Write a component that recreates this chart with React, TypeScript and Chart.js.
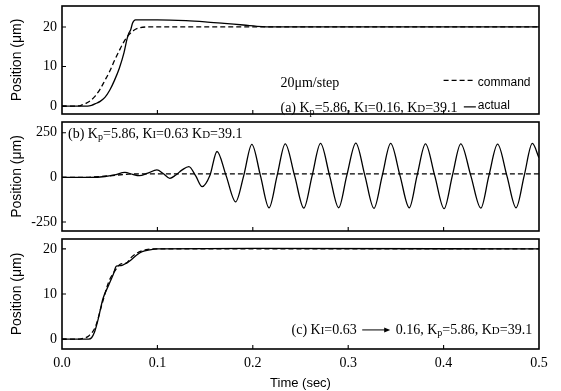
import React, { useEffect, useRef } from "react";
import { Chart, registerables } from "chart.js";
Chart.register(...registerables);

// ---------- data ----------
const timeTicks = [0, 0.1, 0.2, 0.3, 0.4, 0.5];
const posTicksA = [0, 10, 20];
const posTicksB = [-250, 0, 250];
const posTicksC = [0, 10, 20];

// (a) Ki = 0.16
const aCmdT = [0, 0.015, 0.02, 0.025, 0.03, 0.035, 0.04, 0.045, 0.05, 0.055, 0.06, 0.065, 0.07, 0.075, 0.08, 0.09, 0.5];
const aCmdY = [0, 0, 0.2, 0.7, 1.4, 2.6, 4.3, 6.5, 8.8, 11.5, 14, 16.3, 18, 19.1, 19.7, 20, 20];
const aActT = [0, 0.027, 0.031, 0.035, 0.04, 0.045, 0.05, 0.055, 0.06, 0.065, 0.068, 0.07, 0.072, 0.074, 0.077, 0.1, 0.13, 0.15, 0.17, 0.19, 0.21, 0.23, 0.5];
const aActY = [0, 0, 0.2, 0.6, 1.2, 2.2, 4.0, 6.5, 9.5, 13.5, 16.8, 18.4, 19.3, 21.0, 21.8, 21.8, 21.6, 21.3, 20.9, 20.5, 20.1, 20.0, 20.0];

// (b) Ki = 0.63
const bCmdT = [0, 0.02, 0.045, 0.07, 0.09, 0.5];
const bCmdY = [0, 0, 7, 18, 20, 20];
const bActT = [0, 0.03, 0.045, 0.055, 0.066, 0.074, 0.081, 0.09, 0.0995, 0.106, 0.113, 0.119, 0.126, 0.133,
  0.14, 0.147, 0.155, 0.1625, 0.172, 0.182, 0.1905, 0.199, 0.208, 0.217, 0.2255, 0.234, 0.2438, 0.2535,
  0.2622, 0.271, 0.2805, 0.29, 0.2985, 0.308, 0.3175, 0.327, 0.3357, 0.3445, 0.3543, 0.364, 0.3722, 0.381,
  0.3907, 0.4005, 0.4092, 0.418, 0.4285, 0.439, 0.4475, 0.4566, 0.4663, 0.476, 0.4845, 0.493, 0.5];
const bActY = [0, 0, 5, 14, 28, 17, 10, 24, 42, 22, -5, 12, 42, 60,
  10, -52, 10, 145, 10, -137, 10, 185, 10, -170, 10, 188, 10, -172,
  10, 190, 10, -170, 10, 192, 10, -173, 10, 190, 10, -170, 10, 188,
  10, -175, 10, 188, 10, -172, 10, 186, 10, -170, 10, 190, 110];

// (c) Ki = 0.63 -> 0.16
const cCmdT = [0, 0.018, 0.023, 0.028, 0.035, 0.042, 0.049, 0.056, 0.061, 0.066, 0.068, 0.072, 0.078, 0.084, 0.09, 0.1, 0.5];
const cCmdY = [0, 0, 0.2, 0.7, 2.7, 7.8, 12.7, 15.3, 16.6, 16.8, 16.9, 18, 19, 19.6, 19.9, 20, 20];
const cActT = [0, 0.028, 0.031, 0.034, 0.038, 0.043, 0.049, 0.054, 0.057, 0.062, 0.067, 0.072, 0.078, 0.084, 0.092, 0.1, 0.2, 0.5];
const cActY = [0, 0, 0.3, 1.5, 4.5, 9, 12, 14.5, 16.2, 16.3, 16.8, 17.5, 18.6, 19.4, 19.8, 20, 20.1, 20];

// ---------- styling ----------
const SERIF = "'Liberation Serif', 'Times New Roman', serif";
const SANS = "'Liberation Sans', Arial, sans-serif";
const W = 561;

type Seg = { t: string; k?: "sub" | "sc" | "arrow" };
type Note = { x: number; y: number; segs: Seg[]; right?: boolean };
type Leg = { x0: number; x1: number; y: number; dash: boolean; label: string; lx: number; ly: number };

function pts(ts: number[], ys: number[]) {
  return ts.map((t, i) => ({ x: t, y: ys[i] }));
}

const ARROW_W = 28;

function segSize(s: Seg, size: number) {
  return s.k === "sub" ? size * 0.72 : s.k === "sc" ? size * 0.78 : size;
}

function measureSegs(ctx: CanvasRenderingContext2D, segs: Seg[], size: number) {
  let w = 0;
  for (const s of segs) {
    if (s.k === "arrow") {
      w += ARROW_W + 4;
      continue;
    }
    ctx.font = `${segSize(s, size)}px ${SERIF}`;
    w += ctx.measureText(s.t).width;
  }
  return w;
}

function drawSegs(ctx: CanvasRenderingContext2D, segs: Seg[], x: number, y: number, size: number) {
  let cx = x;
  for (const s of segs) {
    if (s.k === "arrow") {
      const w = ARROW_W;
      const ay = y - size * 0.3;
      ctx.lineWidth = 1;
      ctx.setLineDash([]);
      ctx.beginPath();
      ctx.moveTo(cx + 2, ay);
      ctx.lineTo(cx + w, ay);
      ctx.stroke();
      ctx.beginPath();
      ctx.moveTo(cx + w + 2, ay);
      ctx.lineTo(cx + w - 4, ay - 2.5);
      ctx.lineTo(cx + w - 4, ay + 2.5);
      ctx.closePath();
      ctx.fill();
      cx += w + 4;
      continue;
    }
    ctx.font = `${segSize(s, size)}px ${SERIF}`;
    ctx.fillText(s.t, cx, s.k === "sub" ? y + size * 0.15 : y);
    cx += ctx.measureText(s.t).width;
  }
}

function decor(yTicks: number[], notes: Note[], legs: Leg[]) {
  return {
    id: "decor",
    afterDraw(chart: any) {
      const { ctx, chartArea: a, scales } = chart;
      const xs = scales.x, ys = scales.y;
      ctx.save();
      ctx.strokeStyle = "#000";
      ctx.fillStyle = "#000";
      ctx.lineWidth = 1.6;
      ctx.strokeRect(a.left, a.top, a.right - a.left, a.bottom - a.top);
      ctx.lineWidth = 1.1;
      ctx.beginPath();
      for (const v of timeTicks.slice(1, -1)) {
        const px = xs.getPixelForValue(v);
        ctx.moveTo(px, a.bottom);
        ctx.lineTo(px, a.bottom - 4);
      }
      for (const v of yTicks) {
        const py = ys.getPixelForValue(v);
        ctx.moveTo(a.left, py);
        ctx.lineTo(a.left + 4, py);
      }
      ctx.stroke();
      ctx.textBaseline = "alphabetic";
      ctx.textAlign = "left";
      for (const n of notes) {
        let px = xs.getPixelForValue(n.x);
        if (n.right) px -= measureSegs(ctx, n.segs, 14);
        drawSegs(ctx, n.segs, px, ys.getPixelForValue(n.y), 14);
      }
      for (const l of legs) {
        ctx.lineWidth = 1.2;
        ctx.setLineDash(l.dash ? [5, 3] : []);
        ctx.beginPath();
        const py = ys.getPixelForValue(l.y);
        ctx.moveTo(xs.getPixelForValue(l.x0), py);
        ctx.lineTo(xs.getPixelForValue(l.x1), py);
        ctx.stroke();
        ctx.setLineDash([]);
        ctx.font = `12px ${SANS}`;
        ctx.fillText(l.label, xs.getPixelForValue(l.lx), ys.getPixelForValue(l.ly));
      }
      ctx.restore();
    },
  };
}

function ds(ts: number[], ys: number[], dashed: boolean) {
  return {
    data: pts(ts, ys),
    borderColor: "#000",
    borderWidth: 1.3,
    borderDash: dashed ? [5, 3] : [],
    pointRadius: 0,
    fill: false,
    cubicInterpolationMode: "monotone",
  };
}

function makeConfig(p: {
  sets: any[];
  yMin: number;
  yMax: number;
  yTicks: number[];
  padding: any;
  showX: boolean;
  notes: Note[];
  legs: Leg[];
}) {
  return {
    type: "line",
    data: { datasets: p.sets },
    options: {
      responsive: false,
      animation: false,
      devicePixelRatio: 1,
      layout: { padding: p.padding },
      plugins: { legend: { display: false }, tooltip: { enabled: false } },
      scales: {
        x: {
          type: "linear",
          display: p.showX,
          min: 0,
          max: 0.5,
          afterBuildTicks: (s: any) => {
            s.ticks = timeTicks.map((v) => ({ value: v }));
          },
          afterFit: (s: any) => {
            s.height = p.showX ? 42 : 0;
            s.paddingLeft = 0;
            s.paddingRight = 0;
          },
          grid: { display: false, drawTicks: false },
          border: { display: false },
          ticks: {
            color: "#000",
            font: { family: SERIF, size: 14 },
            padding: 6,
            maxRotation: 0,
            autoSkip: false,
            callback: (v: any) => Number(v).toFixed(1),
          },
          title: {
            display: true,
            text: "Time (sec)",
            color: "#000",
            font: { family: SANS, size: 13 },
            padding: { top: 0, bottom: 0 },
          },
        },
        y: {
          type: "linear",
          min: p.yMin,
          max: p.yMax,
          afterBuildTicks: (s: any) => {
            s.ticks = p.yTicks.map((v) => ({ value: v }));
          },
          afterFit: (s: any) => {
            s.width = 62;
            s.paddingTop = 0;
            s.paddingBottom = 0;
          },
          grid: { display: false, drawTicks: false },
          border: { display: false },
          ticks: { color: "#000", font: { family: SERIF, size: 14 }, padding: 5 },
          title: {
            display: true,
            text: "Position (μm)",
            color: "#000",
            font: { family: SANS, size: 14 },
            padding: { top: 9, bottom: 0 },
          },
        },
      },
    },
    plugins: [decor(p.yTicks, p.notes, p.legs)],
  };
}

const notesA: Note[] = [
  { x: 0.229, y: 4.8, segs: [{ t: "20μm/step" }] },
  {
    x: 0.229,
    y: -1.6,
    segs: [{ t: "(a) K" }, { t: "p", k: "sub" }, { t: "=5.86, K" }, { t: "I", k: "sc" }, { t: "=0.16, K" }, { t: "D", k: "sc" }, { t: "=39.1" }],
  },
];
const legsA: Leg[] = [
  { x0: 0.4, x1: 0.4317, y: 6.5, dash: true, label: "command", lx: 0.4359, ly: 5.0 },
  { x0: 0.4212, x1: 0.4338, y: -0.2, dash: false, label: "actual", lx: 0.4359, ly: -0.8 },
];
const notesB: Note[] = [
  {
    x: 0.0063,
    y: 219,
    segs: [{ t: "(b) K" }, { t: "p", k: "sub" }, { t: "=5.86, K" }, { t: "I", k: "sc" }, { t: "=0.63 K" }, { t: "D", k: "sc" }, { t: "=39.1" }],
  },
];
const notesC: Note[] = [
  {
    x: 0.4928,
    y: 1.1,
    right: true,
    segs: [
      { t: "(c) K" },
      { t: "I", k: "sc" },
      { t: "=0.63 " },
      { t: "", k: "arrow" },
      { t: " 0.16, K" },
      { t: "p", k: "sub" },
      { t: "=5.86, K" },
      { t: "D", k: "sc" },
      { t: "=39.1" },
    ],
  },
];

function Panel({ top, height, build }: { top: number; height: number; build: () => any }) {
  const ref = useRef<HTMLCanvasElement>(null);
  useEffect(() => {
    const chart = new Chart(ref.current as HTMLCanvasElement, build());
    return () => chart.destroy();
  }, []);
  return (
    <canvas
      ref={ref}
      width={W}
      height={height}
      style={{ position: "absolute", left: 0, top, width: W, height, display: "block" }}
    />
  );
}

export default function App() {
  return (
    <div style={{ position: "absolute", left: 0, top: 0, width: W, height: 391, background: "#fff", overflow: "hidden" }}>
      <Panel
        top={0}
        height={118}
        build={() =>
          makeConfig({
            sets: [ds(aCmdT, aCmdY, true), ds(aActT, aActY, false)],
            yMin: -2,
            yMax: 25.3,
            yTicks: posTicksA,
            padding: { top: 6, bottom: 4, left: 0, right: 22 },
            showX: false,
            notes: notesA,
            legs: legsA,
          })
        }
      />
      <Panel
        top={118}
        height={117}
        build={() =>
          makeConfig({
            sets: [ds(bCmdT, bCmdY, true), ds(bActT, bActY, false)],
            yMin: -300,
            yMax: 310,
            yTicks: posTicksB,
            padding: { top: 4, bottom: 4, left: 0, right: 22 },
            showX: false,
            notes: notesB,
            legs: [],
          })
        }
      />
      <Panel
        top={235}
        height={156}
        build={() =>
          makeConfig({
            sets: [ds(cCmdT, cCmdY, true), ds(cActT, cActY, false)],
            yMin: -2.2,
            yMax: 22.2,
            yTicks: posTicksC,
            padding: { top: 4, bottom: 0, left: 0, right: 22 },
            showX: true,
            notes: notesC,
            legs: [],
          })
        }
      />
    </div>
  );
}
